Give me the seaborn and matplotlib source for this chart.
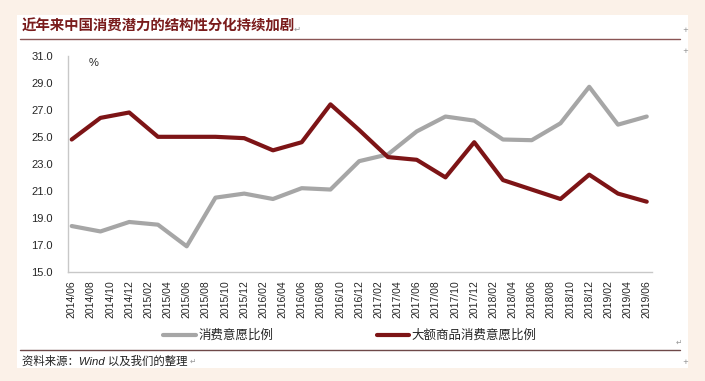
import matplotlib
matplotlib.use("Agg")
import matplotlib.pyplot as plt
import seaborn as sns
import pandas as pd
from matplotlib.patches import Rectangle
from matplotlib.lines import Line2D

# ---------------- data ----------------
quarters = ["2014/06", "2014/09", "2014/12", "2015/03", "2015/06", "2015/09", "2015/12",
            "2016/03", "2016/06", "2016/09", "2016/12", "2017/03", "2017/06", "2017/09",
            "2017/12", "2018/03", "2018/06", "2018/09", "2018/12", "2019/03", "2019/06"]
consume_ratio = [18.4, 18.0, 18.7, 18.5, 16.9, 20.5, 20.8, 20.4, 21.2, 21.1, 23.2,
                 23.7, 25.4, 26.5, 26.2, 24.8, 24.75, 26.0, 28.7, 25.9, 26.5]
big_ticket_ratio = [24.8, 26.4, 26.8, 25.0, 25.0, 25.0, 24.9, 24.0, 24.6, 27.4, 25.5,
                    23.5, 23.3, 22.0, 24.6, 21.8, 21.1, 20.4, 22.2, 20.8, 20.2]
series_names = ["消费意愿比例", "大额商品消费意愿比例"]
tick_labels = ["2014/06", "2014/08", "2014/10", "2014/12",
               "2015/02", "2015/04", "2015/06", "2015/08", "2015/10", "2015/12",
               "2016/02", "2016/04", "2016/06", "2016/08", "2016/10", "2016/12",
               "2017/02", "2017/04", "2017/06", "2017/08", "2017/10", "2017/12",
               "2018/02", "2018/04", "2018/06", "2018/08", "2018/10", "2018/12",
               "2019/02", "2019/04", "2019/06"]
y_ticks = [15.0, 17.0, 19.0, 21.0, 23.0, 25.0, 27.0, 29.0, 31.0]
title = "近年来中国消费潜力的结构性分化持续加剧"
source = "资料来源：Wind 以及我们的整理"


def month_index(s):
    y, m = s.split("/")
    return (int(y) - 2014) * 12 + int(m) - 6


df = pd.DataFrame({
    "month": [month_index(q) for q in quarters] * 2,
    "value": consume_ratio + big_ticket_ratio,
    "series": [series_names[0]] * len(quarters) + [series_names[1]] * len(quarters),
})
tick_pos = [month_index(t) for t in tick_labels]

# ---------------- style ----------------
sns.set_style("white")
plt.rcParams["font.family"] = ["Liberation Sans", "Noto Sans CJK SC", "DejaVu Sans"]

W, H = 705, 381
fig = plt.figure(figsize=(W / 100, H / 100), dpi=100)
fig.patch.set_facecolor("#fbf1e8")


def fx(px):
    return px / W


def fy(py):
    return 1 - py / H


# white card
fig.patches.append(Rectangle((fx(17), fy(368)), fx(688) - fx(17), fy(15) - fy(368),
                             transform=fig.transFigure, facecolor="white",
                             edgecolor="none", zorder=-5))

ax = fig.add_axes([fx(68), fy(272), fx(652) - fx(68), fy(55.7) - fy(272)])
ax.set_facecolor("none")
ax.set_zorder(2)

gray = "#a6a6a6"
red = "#7d1416"
palette = {series_names[0]: gray, series_names[1]: red}

sns.lineplot(data=df, x="month", y="value", hue="series", palette=palette,
             linewidth=3.0, ax=ax, legend=False, solid_joinstyle="round",
             solid_capstyle="round")

ax.set_xlim(-0.386, 60.55)
ax.set_ylim(15, 31)
ax.set_yticks(y_ticks)
ax.set_yticklabels([f"{v:.1f}" for v in y_ticks])
ax.set_xticks(tick_pos)
ax.set_xticklabels(tick_labels, rotation=90)
ax.tick_params(axis="y", length=0, pad=11, labelsize=8, labelcolor="#262626")
ax.tick_params(axis="x", length=0, pad=6, labelsize=7.5, labelcolor="#262626")
ax.set_xlabel("")
ax.set_ylabel("")
for s in ["top", "right"]:
    ax.spines[s].set_visible(False)
for s in ["left", "bottom"]:
    ax.spines[s].set_color("#c8c8c8")
    ax.spines[s].set_linewidth(1)

fig.text(fx(94), fy(63), "%", fontsize=8, ha="center", va="center", color="#262626")

# title and rules
fig.text(fx(22), fy(27), title, fontsize=10.4, fontweight="bold", color="#7a1c1c",
         ha="left", va="center", family=["Noto Sans CJK SC"])
fig.text(fx(294), fy(29), "↵", fontsize=6, color="#999999", ha="left", va="center",
         family=["DejaVu Sans"])
fig.add_artist(Line2D([fx(20), fx(680)], [fy(39), fy(39)], color="#8a5555",
                      lw=1, transform=fig.transFigure))
fig.add_artist(Line2D([fx(20), fx(680)], [fy(350), fy(350)], color="#6e4848",
                      lw=1, transform=fig.transFigure))
fig.text(fx(22), fy(361), source, fontsize=8.2, color="#222222", ha="left",
         va="center", style="italic")
fig.text(fx(190), fy(361), "↵", fontsize=5.5, color="#999999", ha="left", va="center",
         family=["DejaVu Sans"])
fig.text(fx(676), fy(342), "↵", fontsize=5.5, color="#999999", ha="left", va="center",
         family=["DejaVu Sans"])
for py in (30, 51, 362):
    fig.text(fx(685), fy(py), "+", fontsize=5, color="#888888", ha="center",
             va="center", family=["DejaVu Sans"])

# legend
handles = [Line2D([], [], color=gray, lw=3.0), Line2D([], [], color=red, lw=3.0)]
fig.legend(handles, series_names, loc="center", bbox_to_anchor=(fx(350), fy(336)),
           ncol=2, frameon=False, fontsize=9, handlelength=2.6, handletextpad=0.2,
           columnspacing=8.3, borderpad=0, borderaxespad=0)

fig.savefig("out.png", dpi=100, facecolor=fig.get_facecolor())
